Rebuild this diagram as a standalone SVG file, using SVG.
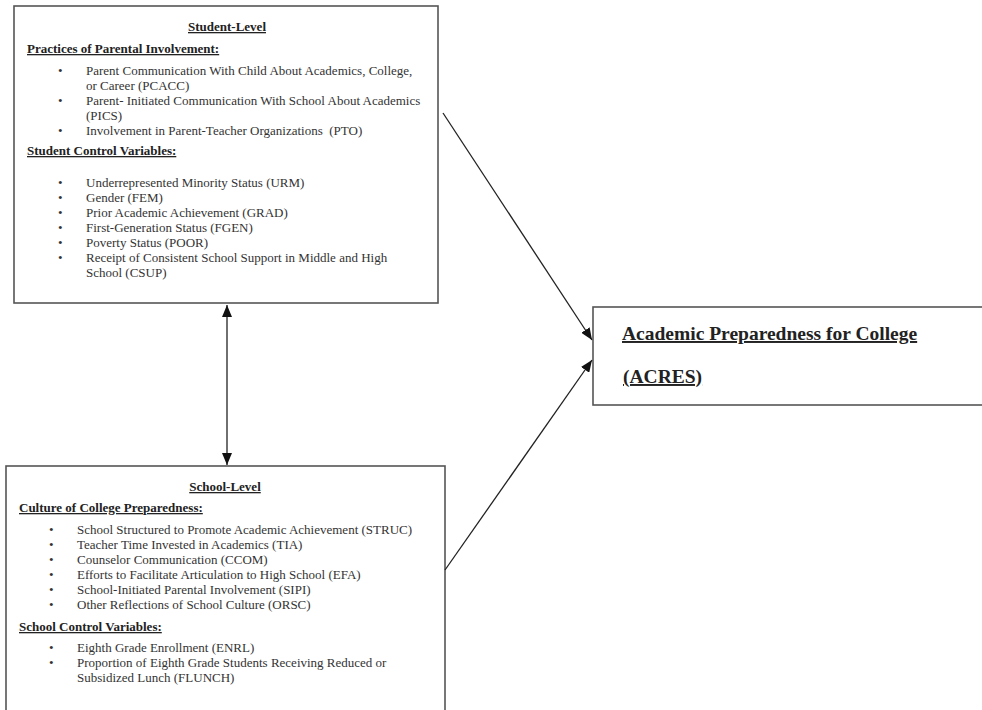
<svg xmlns="http://www.w3.org/2000/svg" width="982" height="710" viewBox="0 0 982 710">
<defs>
<style>
.box{fill:#fff;stroke:#555;stroke-width:1.6}
.t{font-family:"Liberation Serif","Times New Roman",serif;font-size:13px;fill:#333}
.h{font-family:"Liberation Serif","Times New Roman",serif;font-size:13px;font-weight:bold;fill:#222;text-decoration:underline}
.big{font-family:"Liberation Serif","Times New Roman",serif;font-size:19.5px;font-weight:bold;fill:#222;text-decoration:underline}
.line{stroke:#222;stroke-width:1.3;fill:none}
</style>
<marker id="ah" viewBox="0 0 12 10" refX="12" refY="5" markerWidth="12" markerHeight="10" markerUnits="userSpaceOnUse" orient="auto-start-reverse">
<path d="M0,0 L12,5 L0,10 Z" fill="#111"/>
</marker>
</defs>
<rect width="982" height="710" fill="#fff"/>
<g id="student-level">
<rect class="box" x="14" y="6" width="424" height="297"/>
<text class="h" x="227" y="31" text-anchor="middle">Student-Level</text>
<text class="h" x="27" y="53">Practices of Parental Involvement:</text>
<g class="t">
<text x="58" y="75">•</text><text x="86" y="75">Parent Communication With Child About Academics, College,</text>
<text x="86" y="90">or Career (PCACC)</text>
<text x="58" y="105">•</text><text x="86" y="105">Parent- Initiated Communication With School About Academics</text>
<text x="86" y="120">(PICS)</text>
<text x="58" y="135">•</text><text x="86" y="135" xml:space="preserve">Involvement in Parent-Teacher Organizations  (PTO)</text>
</g>
<text class="h" x="27" y="155">Student Control Variables:</text>
<g class="t">
<text x="58" y="187">•</text><text x="86" y="187">Underrepresented Minority Status (URM)</text>
<text x="58" y="202">•</text><text x="86" y="202">Gender (FEM)</text>
<text x="58" y="217">•</text><text x="86" y="217">Prior Academic Achievement (GRAD)</text>
<text x="58" y="232">•</text><text x="86" y="232">First-Generation Status (FGEN)</text>
<text x="58" y="247">•</text><text x="86" y="247">Poverty Status (POOR)</text>
<text x="58" y="262">•</text><text x="86" y="262">Receipt of Consistent School Support in Middle and High</text>
<text x="86" y="277">School (CSUP)</text>
</g>
</g>
<g id="school-level">
<rect class="box" x="6" y="466" width="439" height="260"/>
<text class="h" x="225" y="491" text-anchor="middle">School-Level</text>
<text class="h" x="19" y="512">Culture of College Preparedness:</text>
<g class="t">
<text x="49" y="534">•</text><text x="77" y="534">School Structured to Promote Academic Achievement (STRUC)</text>
<text x="49" y="549">•</text><text x="77" y="549">Teacher Time Invested in Academics (TIA)</text>
<text x="49" y="564">•</text><text x="77" y="564">Counselor Communication (CCOM)</text>
<text x="49" y="579">•</text><text x="77" y="579">Efforts to Facilitate Articulation to High School (EFA)</text>
<text x="49" y="594">•</text><text x="77" y="594">School-Initiated Parental Involvement (SIPI)</text>
<text x="49" y="609">•</text><text x="77" y="609">Other Reflections of School Culture (ORSC)</text>
</g>
<text class="h" x="19" y="631">School Control Variables:</text>
<g class="t">
<text x="49" y="652">•</text><text x="77" y="652">Eighth Grade Enrollment (ENRL)</text>
<text x="49" y="667">•</text><text x="77" y="667">Proportion of Eighth Grade Students Receiving Reduced or</text>
<text x="77" y="682">Subsidized Lunch (FLUNCH)</text>
</g>
</g>
<g id="acres">
<rect class="box" x="593" y="307" width="390" height="98"/>
<text class="big" x="622" y="340">Academic Preparedness for College</text>
<text class="big" x="623" y="383">(ACRES)</text>
</g>
<g id="connectors">
<line class="line" x1="443" y1="113" x2="592" y2="340" marker-end="url(#ah)"/>
<line class="line" x1="445" y1="570" x2="592" y2="360" marker-end="url(#ah)"/>
<line class="line" x1="227" y1="305" x2="227" y2="465" marker-start="url(#ah)" marker-end="url(#ah)"/>
</g>
</svg>
